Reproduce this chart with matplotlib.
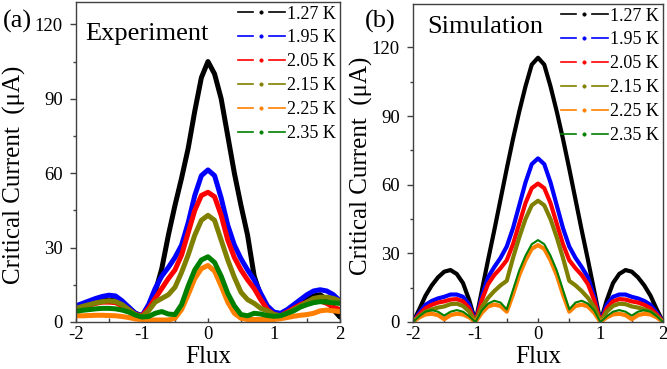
import numpy as np
import matplotlib
matplotlib.use("Agg")
import matplotlib.pyplot as plt
from matplotlib.lines import Line2D
from matplotlib.legend_handler import HandlerBase

plt.rcParams["font.family"] = ["Liberation Serif", "DejaVu Serif"]
plt.rcParams["axes.unicode_minus"] = False

# ── Data ──────────────────────────────────────────────────────────────────────
flux = np.linspace(-2, 2, 41)
temps = ["1.27 K", "1.95 K", "2.05 K", "2.15 K", "2.25 K", "2.35 K"]
colors = ["#000000", "#0000ff", "#ff0000", "#808000", "#ff8000", "#008000"]

exp_127 = [5.5, 6.5, 7.5, 8.2, 8.7, 8.8, 8.5, 7.5, 5.8, 3.5, 2.5, 5.5, 12, 21.5, 35, 47, 58, 70, 85, 98.5,
           105, 100, 90, 75, 60, 47, 35, 18.5, 10.5, 6, 3, 2.5, 4, 6, 8, 9.5, 10.5, 11, 9, 5, 2]
exp_195 = [6.5, 7.5, 8.5, 9.5, 10.3, 10.8, 10.5, 8.5, 6, 3.5, 2.5, 7, 13.5, 18.5, 22, 26, 31, 40, 51, 59,
           61.3, 59, 50, 39, 31, 25.5, 21, 17, 11.5, 6.5, 4, 3.5, 5, 7, 9, 11, 12.5, 13, 12.5, 11, 8.5]
exp_205 = [5, 6, 6.8, 7.5, 8, 8, 7.8, 6.5, 5, 3, 2.5, 5.5, 9.5, 13.5, 17.5, 21, 27, 36, 45, 51,
           52.3, 50.5, 43, 33, 26, 21, 17, 13.5, 9, 5, 3, 2.5, 4, 5.5, 7, 8, 8.5, 8.5, 7.5, 6, 5]
exp_215 = [5.5, 6.3, 7, 7.7, 8.2, 8.5, 8.2, 7, 5, 3, 2.2, 4.5, 8, 9.5, 11, 14, 20, 27, 35, 41,
           43, 41, 33, 25, 18, 12, 9, 7.5, 5.5, 4.5, 3, 2.5, 3.5, 5, 6.5, 8, 9.5, 10, 10, 9.5, 8.5]
exp_225 = [2.5, 2.5, 2.6, 2.7, 2.7, 2.6, 2.5, 2.2, 1.8, 1.2, 1, 0.8, 0.8, 0.8, 0.8, 1.5, 5, 11, 17.5, 21.5,
           22.8, 20.5, 14.5, 8, 3.5, 1.5, 1, 1, 1, 1, 1, 1.3, 1.8, 2.3, 2.7, 3, 3.5, 4.5, 4.8, 4.5, 4.2]
exp_235 = [4.3, 4.7, 5, 5.3, 5.5, 5.5, 5.3, 4.8, 4, 2.8, 2, 2.2, 3.5, 4.2, 3.2, 3, 7, 14.5, 21, 25,
           26.3, 24, 18.5, 11.5, 6.5, 3, 2.5, 3.5, 3.2, 2.6, 2.3, 2.5, 3.5, 4.5, 6, 7, 7.8, 8.2, 8, 7.7, 7.5]

sim_127 = [0, 5.5, 11.5, 16, 19.5, 22, 22.7, 21, 17, 9.5, 0, 13.5, 27, 40, 53.5, 67, 80, 92, 103, 112.5,
           115.5, 112.5, 103, 92, 80, 67, 53.5, 40, 27, 13.5, 0, 9.5, 17, 21, 22.7, 22, 19.5, 16, 11.5, 5.5, 0]
sim_195 = [0, 4, 7.5, 9.2, 10.3, 11, 12, 12, 11, 7.5, 0, 11, 19.5, 24, 28, 33, 41, 51, 61, 69,
           71.5, 69, 61, 51, 41, 33, 28, 24, 19.5, 11, 0, 7.5, 11, 12, 12, 11, 10.3, 9.2, 7.5, 4, 0]
sim_205 = [0, 3.3, 6, 7.5, 8.5, 9, 9.8, 10, 9, 6, 0, 9.5, 16.5, 20.5, 23.5, 27, 34, 43, 52, 58.5,
           60.5, 58.5, 52, 43, 34, 27, 23.5, 20.5, 16.5, 9.5, 0, 6, 9, 10, 9.8, 9, 8.5, 7.5, 6, 3.3, 0]
sim_215 = [0, 2.5, 4.5, 5.5, 6.3, 6.8, 7.8, 8, 7, 4.5, 0, 6.5, 10.5, 13.5, 16, 18, 28, 37, 45, 51,
           53, 51, 45, 37, 28, 18, 16, 13.5, 10.5, 6.5, 0, 4.5, 7, 8, 7.8, 6.8, 6.3, 5.5, 4.5, 2.5, 0]
sim_225 = [0, 2, 3.3, 3.6, 3, 1.2, 3, 3.6, 3.3, 2, 0, 4, 6.8, 7.6, 7, 4.5, 12, 20.5, 27, 32,
           33.6, 32, 27, 20.5, 12, 4.5, 7, 7.6, 6.8, 4, 0, 2, 3.3, 3.6, 3, 1.2, 3, 3.6, 3.3, 2, 0]
sim_235 = [0, 2.5, 4.5, 5.2, 4.5, 2.8, 4.5, 5.2, 4.5, 2.5, 0, 5, 8, 9.3, 8.5, 5.5, 14, 22.5, 29, 34,
           35.8, 34, 29, 22.5, 14, 5.5, 8.5, 9.3, 8, 5, 0, 2.5, 4.5, 5.2, 4.5, 2.8, 4.5, 5.2, 4.5, 2.5, 0]

exp_series = [exp_127, exp_195, exp_205, exp_215, exp_225, exp_235]
sim_series = [sim_127, sim_195, sim_205, sim_215, sim_225, sim_235]
sim_widths = [3.0, 3.0, 3.0, 3.0, 3.0, 1.5]


# ── Legend handle: "— • —" (line, dot, line) like the Origin line+symbol key ──
class DashDotHandler(HandlerBase):
    def create_artists(self, legend, orig_handle, xdescent, ydescent, width, height, fontsize, trans):
        c = orig_handle.get_color()
        y = height / 2 - ydescent
        x0, xm, x1 = -xdescent, -xdescent + width / 2, -xdescent + width
        g = 0.17 * width
        left = Line2D([x0, xm - g], [y, y], color=c, lw=1.2, transform=trans)
        right = Line2D([xm + g, x1], [y, y], color=c, lw=1.2, transform=trans)
        dot = Line2D([xm], [y], color=c, ls="None", marker="o", ms=2.4, mew=0.5, transform=trans)
        return [left, right, dot]


# ── Figure ────────────────────────────────────────────────────────────────────
fig = plt.figure(figsize=(6.67, 3.69), dpi=100)
ax_a = fig.add_axes([0.1139, 0.1274, 0.3958, 0.8672])
ax_b = fig.add_axes([0.6192, 0.1274, 0.3748, 0.8618])


def style_axis(ax, ytop, lab_x, lab_y):
    ax.set_xlim(-2, 2)
    ax.set_ylim(0, ytop)
    ax.set_xticks([-2, -1, 0, 1, 2])
    ax.set_xticks([-1.5, -0.5, 0.5, 1.5], minor=True)
    ax.set_yticks([0, 30, 60, 90, 120])
    ax.set_yticks([15, 45, 75, 105], minor=True)
    ax.tick_params(axis="x", which="both", direction="in", length=3, width=1, labelsize=13.5, pad=3)
    ax.tick_params(axis="y", which="major", direction="out", length=4.5, width=1, labelsize=13.5, pad=5)
    ax.tick_params(axis="y", which="minor", direction="out", length=2.5, width=1)
    ax.tick_params(colors="#404040", labelcolor="black", which="both")
    for sp in ax.spines.values():
        sp.set_color("#404040")
        sp.set_linewidth(1)
    ax.set_xlabel("Flux", fontsize=18, labelpad=2)
    ax.set_ylabel("Critical Current  (μA)", fontsize=18)
    ax.yaxis.set_label_coords(lab_x, lab_y)


def add_legend(ax):
    handles = [Line2D([], [], color=c) for c in colors]
    ax.legend(handles, temps, loc="upper right", bbox_to_anchor=(1.0, 1.0), frameon=False,
              fontsize=13, handlelength=2.6, handletextpad=0.15, labelspacing=0.38,
              borderaxespad=0.1, borderpad=0.1, handler_map={Line2D: DashDotHandler()})


for ys, c in zip(exp_series, colors):
    ax_a.plot(flux, ys, color=c, lw=3.6, solid_joinstyle="round", solid_capstyle="round")
for ys, c, w in zip(sim_series, colors, sim_widths):
    ax_b.plot(flux, ys, color=c, lw=w, solid_joinstyle="round", solid_capstyle="round")

style_axis(ax_a, 129, -0.19, 0.46)
style_axis(ax_b, 139, -0.16, 0.49)
add_legend(ax_a)
add_legend(ax_b)

ax_a.text(0.034, 0.90, "Experiment", transform=ax_a.transAxes, fontsize=19, va="center", ha="left")
ax_b.text(0.056, 0.928, "Simulation", transform=ax_b.transAxes, fontsize=19, va="center", ha="left")
fig.text(0.026, 0.943, "(a)", fontsize=19, ha="center", va="center")
fig.text(0.57, 0.943, "(b)", fontsize=19, ha="center", va="center")

fig.savefig("out.png", dpi=100)
